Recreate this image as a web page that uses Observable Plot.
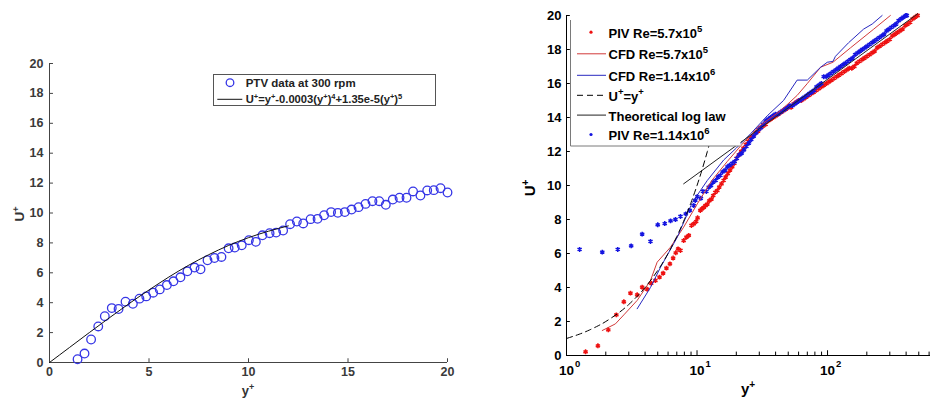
<!DOCTYPE html>
<html><head><meta charset="utf-8">
<script src="https://cdn.jsdelivr.net/npm/d3@7"></script>
<script src="https://cdn.jsdelivr.net/npm/@observablehq/plot@0.6"></script>
<style>
html,body{margin:0;padding:0;background:#fff;}
#wrap{position:relative;width:930px;height:401px;overflow:hidden;}
#left,#right{position:absolute;top:0;}
#left{left:0;} #right{left:465px;}
</style></head><body><div id="wrap"><div id="left"></div><div id="right"></div></div>
<script>
const FONT = "Liberation Sans, Arial, Helvetica, sans-serif";

// ---------- Left panel data ----------
const ptvX = [1.41,1.76,2.09,2.45,2.78,3.13,3.47,3.82,4.19,4.52,4.86,5.21,5.54,5.90,6.23,6.58,6.93,7.29,7.59,7.94,8.29,8.64,9.00,9.31,9.66,10.02,10.37,10.70,11.06,11.39,11.74,12.09,12.43,12.75,13.12,13.47,13.80,14.15,14.49,14.84,15.18,15.53,15.88,16.23,16.57,16.90,17.25,17.59,17.94,18.27,18.64,18.98,19.31,19.65,20.00];
const ptvU = [0.22,0.60,1.54,2.41,3.10,3.64,3.58,4.07,3.93,4.27,4.42,4.67,4.89,5.18,5.43,5.70,6.10,6.35,6.23,6.84,6.99,7.06,7.64,7.69,7.84,8.18,8.07,8.51,8.65,8.69,8.83,9.25,9.43,9.30,9.59,9.61,9.85,10.06,10.01,10.06,10.23,10.39,10.61,10.79,10.79,10.55,10.90,11.02,11.02,11.44,11.17,11.51,11.53,11.66,11.37];
const fitX = [0,1,2,3,4,5,6,7,8,9,10,11,12];
const fitU = [0,1.0,2.0,2.98,3.94,4.85,5.72,6.51,7.21,7.83,8.35,8.78,9.14];
const leftXTicks = [0,5,10,15,20];
const uTicks = [0,2,4,6,8,10,12,14,16,18,20];

// ---------- Right panel data ----------
const pivRedLow = [[1.40,0.22],[1.74,0.57],[2.09,1.51],[2.41,2.39],[2.75,3.16],[3.09,3.67],[3.48,3.57],[3.80,4.02],[4.15,3.90],[4.46,4.25],[4.80,4.41],[5.16,4.61],[5.50,4.84],[5.83,5.14],[6.20,5.39],[6.56,5.73],[6.87,6.04],[7.16,6.27],[7.47,6.18],[7.90,6.76],[8.30,6.96],[8.65,7.06],[9.06,7.65],[9.45,7.75],[9.85,7.88],[10.1,8.10],[10.6,8.53],[10.9,8.63],[11.3,8.72],[11.6,8.82]];
const pivRedBand = [[12.0,8.9],[12.4,9.1],[12.9,9.2],[13.3,9.4],[13.8,9.6],[14.3,9.7],[14.8,9.9],[15.4,10.1],[16.0,10.3],[16.6,10.5],[17.2,10.7],[17.9,10.9],[18.6,11.1],[19.3,11.3],[20.1,11.6],[20.9,11.8],[21.8,12.0],[22.7,12.2],[23.7,12.4],[24.7,12.6],[25.8,12.8],[26.9,12.9],[28.1,13.1],[29.4,13.2],[30.7,13.4],[32.1,13.5],[33.6,13.6],[35.1,13.8],[36.7,13.9],[38.4,14.0],[40.2,14.1],[42.1,14.2],[44.0,14.3],[46.0,14.4],[48.1,14.5],[50.3,14.6],[52.6,14.6],[55.0,14.8],[57.5,14.9],[60.1,15.0],[62.8,15.0],[65.7,15.1],[68.7,15.2],[71.8,15.3],[75.1,15.4],[78.5,15.5],[82.1,15.6],[85.8,15.7],[89.7,15.8],[93.8,15.9],[98.1,16.0],[102.6,16.1],[107.3,16.2],[112.2,16.3],[117.3,16.4],[122.7,16.5],[128.3,16.6],[134.2,16.7],[140.3,16.8],[146.7,16.9],[153.4,16.9],[160.4,17.0],[167.7,17.2],[175.4,17.3],[183.4,17.4],[191.8,17.5],[200.6,17.6],[209.8,17.7],[219.4,17.8],[229.4,17.9],[239.9,18.1],[250.9,18.2],[262.4,18.3],[274.4,18.4],[287.0,18.5],[300.1,18.6],[313.8,18.8],[328.2,18.9],[343.2,19.0],[358.9,19.1],[375.3,19.2],[392.5,19.4],[410.5,19.5],[429.3,19.6],[448.9,19.8],[469.4,19.9],[490.0,20.0]];
const pivBlueLow = [[1.26,6.24],[1.88,6.08],[2.47,6.24],[3.13,6.45],[3.80,7.14],[4.40,6.71],[5.00,7.69],[5.66,7.76],[6.27,7.92],[6.84,8.00],[7.47,8.18],[8.20,8.33],[8.80,8.53],[9.45,8.82],[9.70,9.12],[10.05,9.35],[10.70,9.25],[11.1,9.65],[11.8,9.65]];
const pivBlueBand = [[12.3,9.9],[12.8,10.0],[13.3,10.2],[13.9,10.3],[14.5,10.5],[15.1,10.6],[15.7,10.8],[16.4,10.9],[17.1,11.1],[17.8,11.2],[18.6,11.3],[19.4,11.4],[20.2,11.6],[21.1,11.8],[22.0,11.9],[22.9,12.1],[23.9,12.3],[25.0,12.5],[26.0,12.7],[27.2,12.9],[28.4,13.1],[29.6,13.3],[30.9,13.4],[32.2,13.6],[33.6,13.8],[35.1,13.9],[36.6,14.0],[38.2,14.1],[39.9,14.2],[41.6,14.2],[43.4,14.3],[45.3,14.4],[47.3,14.5],[49.4,14.6],[51.5,14.7],[53.8,14.7],[56.1,14.8],[58.5,14.9],[61.1,15.0],[63.7,15.1],[66.5,15.2],[69.4,15.3],[72.4,15.4],[75.6,15.5],[78.9,15.6],[82.3,15.8],[85.9,15.9],[89.6,16.0],[93.5,16.4],[97.6,16.4],[101.8,16.5],[106.3,16.6],[110.9,16.7],[115.7,16.8],[120.8,16.9],[126.0,17.0],[131.5,17.1],[137.2,17.2],[143.2,17.3],[149.4,17.4],[155.9,17.5],[162.7,17.7],[169.8,17.8],[177.2,17.9],[184.9,18.0],[193.0,18.1],[201.4,18.2],[210.1,18.3],[219.3,18.4],[228.8,18.5],[238.8,18.6],[249.2,18.7],[260.0,18.8],[271.4,18.9],[283.2,19.1],[295.5,19.2],[308.4,19.3],[321.8,19.4],[335.8,19.5],[350.4,19.7],[365.7,19.8],[381.6,19.9],[398.2,20.0],[405.0,20.0]];
const cfdRed = [[1.88,1.47],[2.37,1.86],[2.75,2.39],[3.48,3.24],[4.4,4.41],[4.95,5.49],[6.26,6.37],[7.9,7.55],[10.05,8.92],[13,10.3],[17,11.4],[22,12.4],[30,13.5],[43.7,14.4],[58.5,15.3],[70,16.0],[88.6,16.96],[110,17.25],[125,17.6],[150,18.1],[226,19.2],[303,20.0]];
const cfdBlue = [[3.48,2.75],[4.4,4.0],[5.26,5.2],[7.06,6.96],[9.2,9.0],[12,10.3],[16,11.5],[20,12.2],[25.7,13.04],[34.5,14.1],[46,15.0],[58.5,16.2],[70,16.2],[88.6,16.96],[99.5,17.25],[110,17.3],[115,17.6],[145,18.4],[189,19.2],[220,19.5],[262,20.0]];
const linX = [1,1.25,1.5,1.75,2,2.5,3,3.5,4,5,6,7,8,9,10,11,12,12.5];
const linU = [1,1.25,1.5,1.75,2,2.5,3,3.5,4,5,6,7,8,9,10,11,12,12.5];
const logLaw = [[7.9,10.1],[490,20.1]];
const majorX = [1,10,100];
const majorExp = ["0","1","2"];
const minorX = [2,3,4,5,6,7,8,9,20,30,40,50,60,70,80,90,200,300,400,500,600];

// ---------- Left plot ----------
const ptv = ptvX.map((x,i)=>({x, u: ptvU[i]}));
const fit = fitX.map((x,i)=>({x, u: fitU[i]}));
const L = Plot.plot({
  width: 465, height: 401,
  marginLeft: 49, marginRight: 18, marginTop: 63, marginBottom: 39,
  style: {fontFamily: FONT, color: "#333", background: "transparent", overflow: "visible"},
  x: {domain: [0,20], axis: null}, y: {domain: [0,20], axis: null},
  marks: [
    Plot.axisX(leftXTicks, {tickSize: 0, tickPadding: 5, label: null, fontSize: 12.5, fontWeight: "bold", fill: "#3a3a3a"}),
    Plot.axisY(uTicks, {tickSize: 0, tickPadding: 6, label: null, fontSize: 12.5, fontWeight: "bold", fill: "#3a3a3a"}),
    Plot.ruleX(leftXTicks, {x: d=>d, y1: ()=>0, y2: ()=>0.25, stroke: "#444"}),
    Plot.ruleY(uTicks, {y: d=>d, x1: ()=>0, x2: ()=>0.2, stroke: "#444"}),
    Plot.ruleX([0], {stroke: "#444"}),
    Plot.ruleY([0], {stroke: "#444"}),
    Plot.dot(ptv, {x: "x", y: "u", r: 4.3, stroke: "#3636e6", strokeWidth: 1.3, fill: "none"}),
    Plot.line(fit, {x: "x", y: "u", stroke: "#111", strokeWidth: 1, curve: "natural"})
  ]
});
document.getElementById("left").appendChild(L);

// ---------- Right plot ----------
const toObj = a => a.map(([x,u]) => ({x, u}));
const lin = linX.map((x,i)=>({x, u: linU[i]}));
const R = Plot.plot({
  width: 465, height: 401,
  marginLeft: 101, marginRight: 0, marginTop: 15, marginBottom: 46,
  style: {fontFamily: FONT, color: "#000", background: "transparent", overflow: "visible"},
  x: {type: "log", domain: [1, 615], axis: null}, y: {domain: [0,20], axis: null},
  marks: [
    Plot.axisY(uTicks, {tickSize: 0, tickPadding: 5, label: null, fontSize: 13, fontWeight: "bold", fill: "#000"}),
    Plot.ruleY(uTicks, {y: d=>d, x1: ()=>1, x2: ()=>1.07, stroke: "#000"}),
    Plot.ruleX(majorX, {x: d=>d, y1: ()=>0, y2: ()=>0.28, stroke: "#000"}),
    Plot.ruleX(minorX, {x: d=>d, y1: ()=>0, y2: ()=>0.2, stroke: "#000"}),
    Plot.text(majorX, {x: d=>d, y: ()=>0, text: ()=>"10", dy: 15, textAnchor: "middle", fontSize: 13.5, fontWeight: "bold", fill: "#000"}),
    Plot.text(majorX, {x: d=>d, y: ()=>0, text: (d,i)=>majorExp[i], dy: 8.5, dx: 8.5, textAnchor: "start", fontSize: 9.5, fontWeight: "bold", fill: "#000"}),
    Plot.ruleX([1], {stroke: "#000"}),
    Plot.ruleY([0], {stroke: "#000"}),
    Plot.dot(toObj(pivRedLow.concat(pivRedBand)), {x: "x", y: "u", r: 2.3, symbol: "asterisk", stroke: "#ee1111", strokeWidth: 1.5}),
    Plot.dot(toObj(pivBlueLow.concat(pivBlueBand)), {x: "x", y: "u", r: 2.3, symbol: "asterisk", stroke: "#1414e0", strokeWidth: 1.5}),
    Plot.line(toObj(cfdRed), {x: "x", y: "u", stroke: "#d23a3a", strokeWidth: 1}),
    Plot.line(toObj(cfdBlue), {x: "x", y: "u", stroke: "#2828c0", strokeWidth: 1}),
    Plot.line(lin, {x: "x", y: "u", stroke: "#000", strokeWidth: 1, strokeDasharray: "6,4", curve: "natural"}),
    Plot.line(toObj(logLaw), {x: "x", y: "u", stroke: "#222", strokeWidth: 1})
  ]
});
document.getElementById("right").appendChild(R);

// ---------- helpers for text with superscripts ----------
function richText(g, x, y, parts, o) {
  const t = g.append("text").attr("x", x).attr("y", y)
    .attr("font-family", FONT).attr("font-size", o.size)
    .attr("font-weight", o.weight || "bold").attr("fill", o.fill || "#000")
    .attr("stroke", "none").attr("text-anchor", o.anchor || "start");
  if (o.transform) t.attr("transform", o.transform);
  let raised = false;
  for (const p of parts) {
    const s = t.append("tspan").text(p.t);
    if (p.sup) { s.attr("font-size", o.supSize); if (!raised) { s.attr("dy", -o.rise); raised = true; } }
    else if (raised) { s.attr("dy", o.rise); raised = false; }
  }
  return t;
}

// ---------- Left labels & legend ----------
const ls = d3.select(L).append("g").attr("text-anchor", "start");
richText(ls, 0, 0, [{t:"U"},{t:"+",sup:true}], {size: 13.5, supSize: 9, rise: 5, fill: "#333", anchor: "middle", transform: "translate(24,214) rotate(-90)"});
richText(ls, 248, 395, [{t:"y"},{t:"+",sup:true}], {size: 13, supSize: 9, rise: 5, fill: "#333", anchor: "middle"});
ls.append("rect").attr("x", 213.5).attr("y", 74.5).attr("width", 222).attr("height", 31)
  .attr("fill", "#fff").attr("stroke", "#555").attr("stroke-width", 1);
ls.append("circle").attr("cx", 230).attr("cy", 82.7).attr("r", 3.8).attr("fill", "none").attr("stroke", "#3636e6").attr("stroke-width", 1.3);
richText(ls, 245.7, 86.8, [{t:"PTV data at 300 rpm"}], {size: 11.5, fill: "#222"});
ls.append("line").attr("x1", 217.3).attr("x2", 242.3).attr("y1", 99.3).attr("y2", 99.3).attr("stroke", "#111");
richText(ls, 245.7, 103.2, [{t:"U"},{t:"+",sup:true},{t:"=y"},{t:"+",sup:true},{t:"-0.0003(y"},{t:"+",sup:true},{t:")"},{t:"4",sup:true},{t:"+1.35e-5(y"},{t:"+",sup:true},{t:")"},{t:"5",sup:true}], {size: 11.2, supSize: 7.5, rise: 4, fill: "#222", weight: "600"});

// ---------- Right labels & legend ----------
const rs = d3.select(R).append("g").attr("text-anchor", "start");
richText(rs, 0, 0, [{t:"U"},{t:"+",sup:true}], {size: 15, supSize: 10, rise: 6, anchor: "middle", transform: "translate(70,188) rotate(-90)"});
richText(rs, 283, 394, [{t:"y"},{t:"+",sup:true}], {size: 15, supSize: 10, rise: 6, anchor: "middle"});
rs.append("rect").attr("x", 105.5).attr("y", 17).attr("width", 170).attr("height", 129).attr("fill", "#fff").attr("stroke", "none");
rs.append("path").attr("d", "M105.5,20V146H275.5").attr("fill", "none").attr("stroke", "#7a7a7a").attr("stroke-width", 1);
const lx1 = 112, lx2 = 141, mx = 126, tx = 143.5;
const entries = [
  {base: 37.7, kind: "dot", color: "#ee1111", parts: [{t:"PIV Re=5.7x10"},{t:"5",sup:true}]},
  {base: 59.3, kind: "line", color: "#d23a3a", parts: [{t:"CFD Re=5.7x10"},{t:"5",sup:true}]},
  {base: 80.8, kind: "line", color: "#2828c0", parts: [{t:"CFD Re=1.14x10"},{t:"6",sup:true}]},
  {base: 100.8, kind: "dash", color: "#000", parts: [{t:"U"},{t:"+",sup:true},{t:"=y"},{t:"+",sup:true}]},
  {base: 120.6, kind: "line", color: "#222", parts: [{t:"Theoretical log law"}]},
  {base: 140.0, kind: "dot", color: "#1414e0", parts: [{t:"PIV Re=1.14x10"},{t:"6",sup:true}]}
];
for (const e of entries) {
  const cy = e.base - 5.5;
  if (e.kind === "dot") {
    rs.append("circle").attr("cx", mx).attr("cy", cy).attr("r", 1.6).attr("fill", e.color);
  } else {
    const ln = rs.append("line").attr("x1", lx1).attr("x2", lx2).attr("y1", cy).attr("y2", cy).attr("stroke", e.color).attr("stroke-width", 1);
    if (e.kind === "dash") ln.attr("stroke-dasharray", "6,4");
  }
  richText(rs, tx, e.base, e.parts, {size: 13, supSize: 9.5, rise: 6});
}
</script></body></html>
